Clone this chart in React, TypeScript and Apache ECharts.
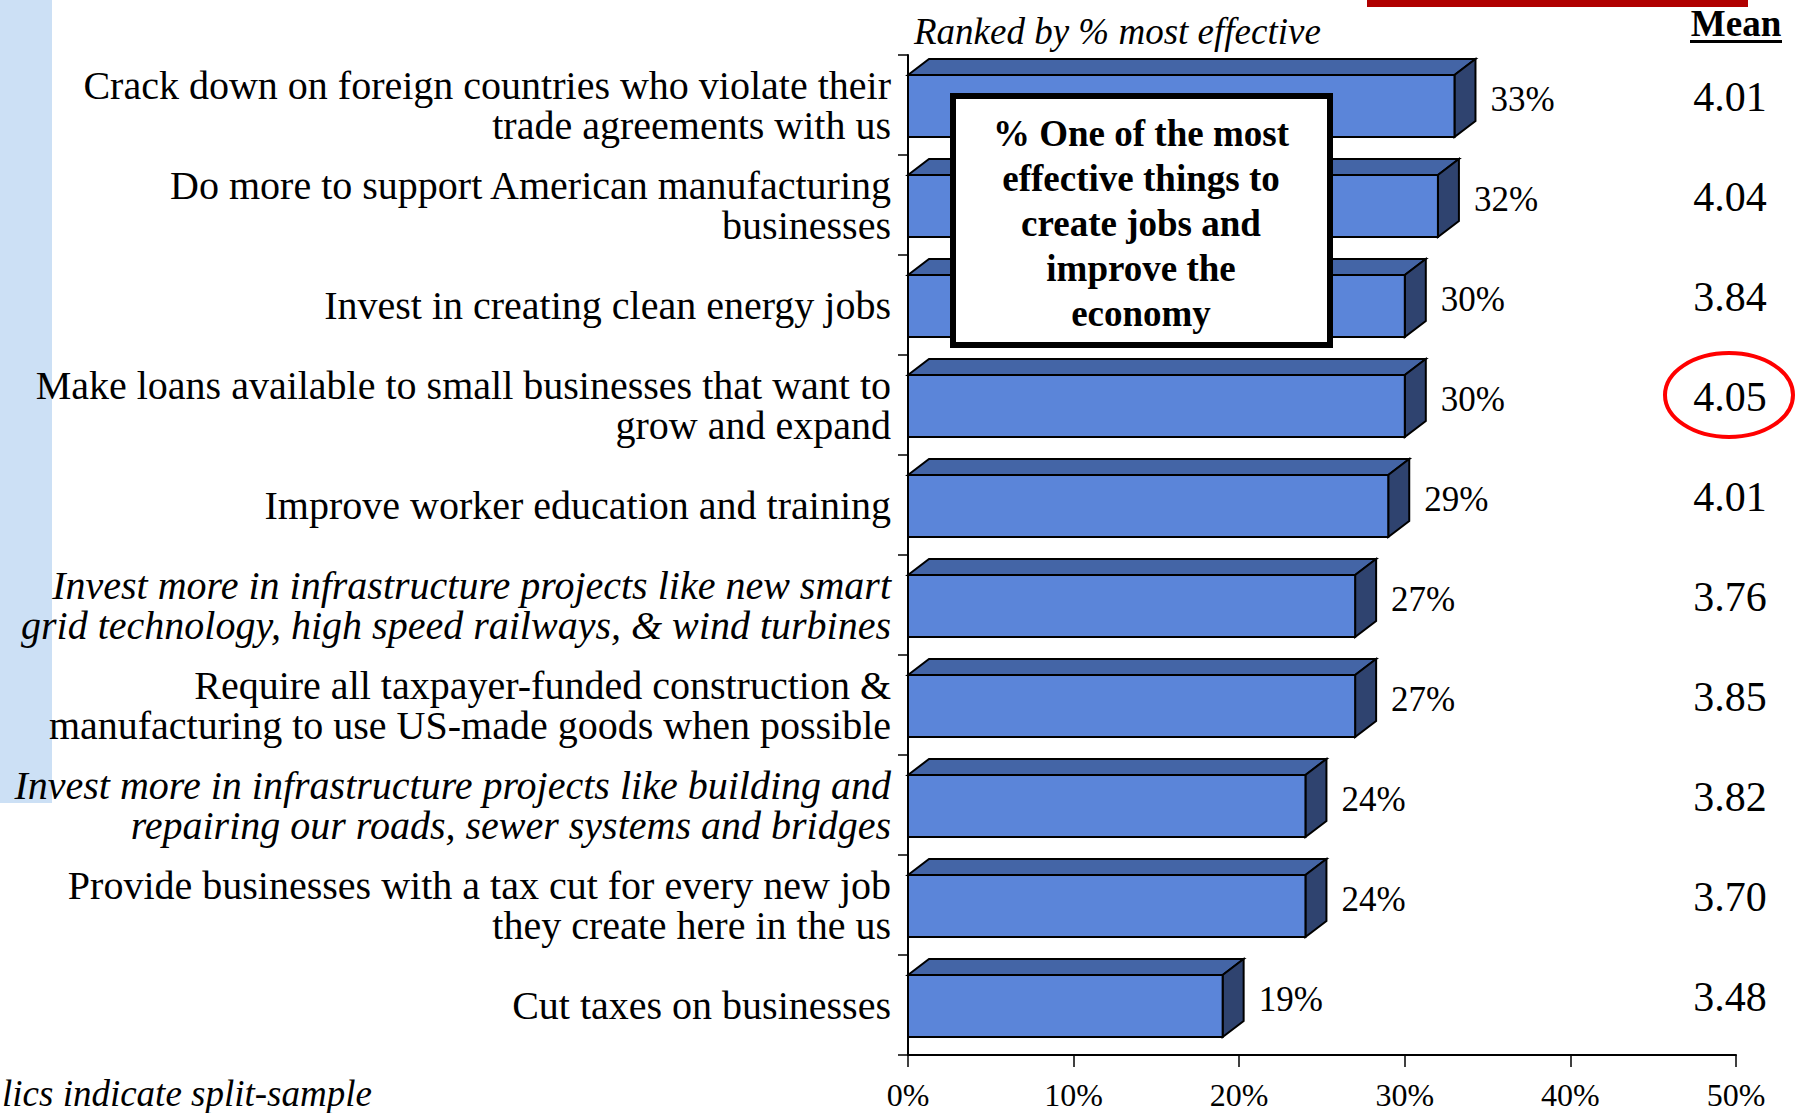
import React, { useEffect, useRef } from "react";
import * as echarts from "echarts";

const categories: string[] = [
  "Crack down on foreign countries who violate their\ntrade agreements with us",
  "Do more to support American manufacturing\nbusinesses",
  "Invest in creating clean energy jobs",
  "Make loans available to small businesses that want to\ngrow and expand",
  "Improve worker education and training",
  "Invest more in infrastructure projects like new smart\ngrid technology, high speed railways, & wind turbines",
  "Require all taxpayer-funded construction &\nmanufacturing to use US-made goods when possible",
  "Invest more in infrastructure projects like building and\nrepairing our roads, sewer systems and bridges",
  "Provide businesses with a tax cut for every new job\nthey create here in the us",
  "Cut taxes on businesses",
];
const italicFlags: boolean[] = [false, false, false, false, false, true, false, true, false, false];
const pctMostEffective: number[] = [33, 32, 30, 30, 29, 27, 27, 24, 24, 19];
const means: string[] = ["4.01", "4.04", "3.84", "4.05", "4.01", "3.76", "3.85", "3.82", "3.70", "3.48"];
const xTicks = { min: 0, max: 50, interval: 10 };
const boxLines: string[] = ["% One of the most", "effective things to", "create jobs and", "improve the", "economy"];

const FONT = "'Liberation Serif', 'Times New Roman', serif";

export default function App() {
  const ref = useRef<HTMLDivElement>(null);
  useEffect(() => {
    document.body.style.margin = "0";
    const chart = echarts.init(ref.current!, null, { renderer: "svg" });
    const dx = 21;
    const dy = 16;
    const option: any = {
      animation: false,
      backgroundColor: "#ffffff",
      grid: { left: 908, right: 71, top: 55, bottom: 58, containLabel: false },
      xAxis: {
        type: "value",
        min: xTicks.min,
        max: xTicks.max,
        interval: xTicks.interval,
        axisLine: { show: true, lineStyle: { color: "#000", width: 2 } },
        axisTick: { show: true, length: 12, lineStyle: { color: "#000", width: 1.5 } },
        splitLine: { show: false },
        axisLabel: {
          formatter: "{value}%",
          margin: 24,
          fontSize: 32,
          fontFamily: FONT,
          color: "#000",
        },
      },
      yAxis: [
        {
          type: "category",
          inverse: true,
          data: categories.map((c, i) => ({
            value: c,
            textStyle: { fontStyle: italicFlags[i] ? "italic" : "normal" },
          })),
          axisLine: { show: true, lineStyle: { color: "#000", width: 2 } },
          axisTick: { show: true, length: 10, lineStyle: { color: "#000", width: 1.5 } },
          axisLabel: {
            margin: 17,
            fontSize: 40,
            lineHeight: 40,
            fontFamily: FONT,
            color: "#000",
            align: "right",
          },
        },
        {
          type: "category",
          inverse: true,
          position: "right",
          data: means,
          axisLine: { show: false },
          axisTick: { show: false },
          axisLabel: {
            margin: -6,
            align: "center",
            verticalAlign: "bottom",
            lineHeight: 16,
            fontSize: 42,
            fontFamily: FONT,
            color: "#000",
          },
        },
      ],
      series: [
        {
          type: "custom",
          xAxisIndex: 0,
          yAxisIndex: 0,
          encode: { x: 0, y: 1 },
          data: pctMostEffective.map((v, i) => [v, i]),
          z: 2,
          renderItem: (params: any, api: any) => {
            const v = api.value(0);
            const idx = api.value(1);
            const start = api.coord([0, idx]);
            const end = api.coord([v, idx]);
            const bandH = api.size([0, 1])[1];
            const h = bandH * 0.62;
            const yc = start[1] + 1;
            const x0 = start[0];
            const x1 = end[0];
            const top = yc - h / 2;
            const bot = yc + h / 2;
            const edge = { stroke: "#000", lineWidth: 2, lineJoin: "miter" };
            return {
              type: "group",
              children: [
                {
                  type: "polygon",
                  shape: { points: [[x0, top], [x0 + dx, top - dy], [x1 + dx, top - dy], [x1, top]] },
                  style: { fill: "#4465A6", ...edge },
                },
                {
                  type: "polygon",
                  shape: { points: [[x1, top], [x1 + dx, top - dy], [x1 + dx, bot - dy], [x1, bot]] },
                  style: { fill: "#2F436F", ...edge },
                },
                {
                  type: "rect",
                  shape: { x: x0, y: top, width: x1 - x0, height: h },
                  style: { fill: "#5B85D9", ...edge },
                },
                {
                  type: "text",
                  x: x1 + 36,
                  y: yc - 7,
                  style: {
                    text: v + "%",
                    fontSize: 35,
                    fontFamily: FONT,
                    fill: "#000",
                    align: "left",
                    verticalAlign: "middle",
                  },
                },
              ],
            };
          },
        },
      ],
      graphic: [
        {
          type: "rect",
          z: -10,
          shape: { x: 0, y: 0, width: 52, height: 803 },
          style: { fill: "#CCE0F5" },
        },
        {
          type: "rect",
          z: 10,
          shape: { x: 1367, y: 0, width: 381, height: 7 },
          style: { fill: "#B00000" },
        },
        {
          type: "text",
          z: 10,
          x: 1736,
          y: 23,
          style: {
            text: "Mean",
            fontSize: 37,
            fontWeight: "bold",
            fontFamily: FONT,
            fill: "#000",
            align: "center",
            verticalAlign: "middle",
          },
        },
        {
          type: "rect",
          z: 10,
          shape: { x: 1690, y: 40, width: 92, height: 3 },
          style: { fill: "#000" },
        },
        {
          type: "text",
          z: 10,
          x: 914,
          y: 31,
          style: {
            text: "Ranked by % most effective",
            fontSize: 37,
            fontStyle: "italic",
            fontFamily: FONT,
            fill: "#000",
            align: "left",
            verticalAlign: "middle",
          },
        },
        {
          type: "rect",
          z: 100,
          shape: { x: 953, y: 96, width: 377, height: 249 },
          style: { fill: "#fff", stroke: "#000", lineWidth: 6 },
        },
        {
          type: "text",
          z: 101,
          x: 1141,
          y: 223,
          style: {
            text: boxLines.join("\n"),
            fontSize: 37,
            lineHeight: 45,
            fontWeight: "bold",
            fontFamily: FONT,
            fill: "#000",
            align: "center",
            verticalAlign: "middle",
          },
        },
        {
          type: "ellipse",
          z: 100,
          shape: { cx: 1729, cy: 395, rx: 64, ry: 42 },
          style: { fill: "none", stroke: "#FF0000", lineWidth: 4 },
        },
        {
          type: "text",
          z: 10,
          x: 2,
          y: 1093,
          style: {
            text: "lics indicate split-sample",
            fontSize: 37,
            fontStyle: "italic",
            fontFamily: FONT,
            fill: "#000",
            align: "left",
            verticalAlign: "middle",
          },
        },
      ],
    };
    chart.setOption(option);
    return () => chart.dispose();
  }, []);
  return (
    <div
      ref={ref}
      style={{ position: "fixed", left: 0, top: 0, width: 1807, height: 1113, background: "#fff" }}
    />
  );
}
